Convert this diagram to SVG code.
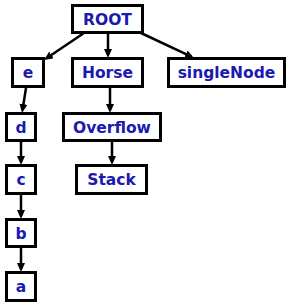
<svg xmlns="http://www.w3.org/2000/svg" width="291" height="307" viewBox="0 0 291 307">
<style>
.box{fill:#fff;stroke:#000;stroke-width:3}
.lbl{font-family:"DejaVu Sans",sans-serif;font-weight:bold;font-size:15.5px;fill:#1a1ab0;text-anchor:middle}
.edge{stroke:#000;stroke-width:2.5;fill:none;marker-end:url(#ah)}
</style>
<defs>
<marker id="ah" markerUnits="userSpaceOnUse" viewBox="0 0 9 8" markerWidth="9" markerHeight="8" refX="6" refY="4" orient="auto">
<path d="M0,0 L9,4 L0,8 z" fill="#000"/>
</marker>
</defs>
<rect width="291" height="307" fill="#fff"/>
<g id="edges">
<line class="edge" x1="84" y1="33" x2="46.5" y2="58.3"/>
<line class="edge" x1="108" y1="33" x2="108" y2="55"/>
<line class="edge" x1="141" y1="33" x2="191.3" y2="56.7"/>
<line class="edge" x1="26" y1="88" x2="22.5" y2="110"/>
<line class="edge" x1="110" y1="88" x2="110" y2="110"/>
<line class="edge" x1="112" y1="141" x2="112" y2="162"/>
<line class="edge" x1="21" y1="141" x2="21" y2="162"/>
<line class="edge" x1="21" y1="194" x2="21" y2="216"/>
<line class="edge" x1="21" y1="247" x2="21" y2="269"/>
</g>
<g id="ROOT"><rect class="box" x="72.5" y="5.5" width="70" height="27"/><text class="lbl" x="107.5" y="24.8">ROOT</text></g>
<g id="e"><rect class="box" x="12.5" y="58.5" width="31" height="28"/><text class="lbl" x="28" y="78.3">e</text></g>
<g id="Horse"><rect class="box" x="72.5" y="58.5" width="70" height="28"/><text class="lbl" x="107.5" y="78.3">Horse</text></g>
<g id="singleNode"><rect class="box" x="168.5" y="58.5" width="116" height="28"/><text class="lbl" x="226.5" y="78.3">singleNode</text></g>
<g id="d"><rect class="box" x="6.5" y="113.5" width="29" height="27"/><text class="lbl" x="21" y="132.8">d</text></g>
<g id="Overflow"><rect class="box" x="63.5" y="113.5" width="97" height="27"/><text class="lbl" x="112" y="132.8">Overflow</text></g>
<g id="c"><rect class="box" x="6.5" y="165.5" width="29" height="28"/><text class="lbl" x="21" y="185.3">c</text></g>
<g id="Stack"><rect class="box" x="76.5" y="165.5" width="70" height="28"/><text class="lbl" x="111.5" y="185.3">Stack</text></g>
<g id="b"><rect class="box" x="6.5" y="219.5" width="29" height="27"/><text class="lbl" x="21" y="238.8">b</text></g>
<g id="a"><rect class="box" x="6.5" y="272.5" width="29" height="28"/><text class="lbl" x="21" y="292.3">a</text></g>
</svg>
